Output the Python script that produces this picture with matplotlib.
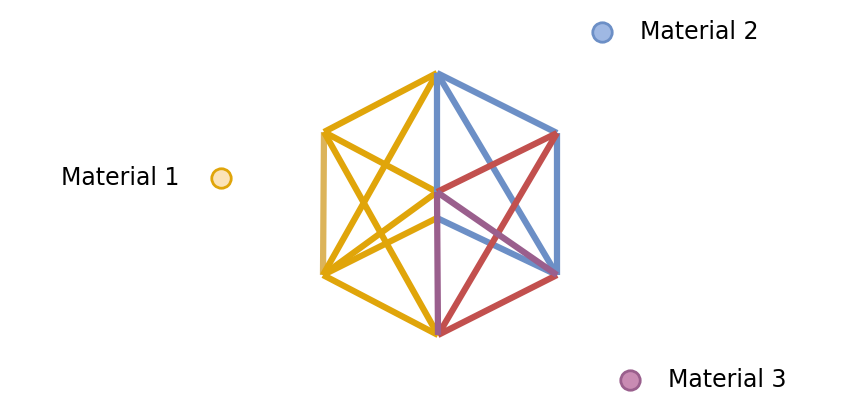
import matplotlib.pyplot as plt

# node positions (pixel-like coordinates, y downward)
nodes = {
    "T": (437, 73), "UL": (324, 132), "LL": (323, 275), "B": (438, 335),
    "UR": (557, 133), "LR": (557, 275), "C1": (437, 192), "C2": (437, 218),
}
yellow, blue, red, purple = "#e0a50a", "#6c8fc6", "#c2504e", "#9a5f8d"
edges = [
    ("T", "UL", yellow), ("UL", "LL", "#dcb45a"), ("LL", "B", yellow),
    ("UL", "B", yellow), ("T", "LL", yellow), ("UL", "C1", yellow),
    ("LL", "C1", yellow), ("LL", "C2", yellow),
    ("T", "UR", blue), ("UR", "LR", blue), ("T", "LR", blue),
    ("T", "C1", blue), ("C2", "LR", blue),
    ("UR", "C1", red), ("UR", "B", red), ("LR", "B", red),
    ("C1", "LR", purple), ("C1", "B", purple),
]
legend_labels = ["Material 1", "Material 2", "Material 3"]
legend_pos = [(221, 178), (602, 32), (630, 380)]
legend_fill = ["#fbe3b8", "#9fb8e3", "#c98bb3"]
legend_edge = [yellow, blue, purple]

fig = plt.figure(figsize=(8.5, 4.12), dpi=100)
ax = fig.add_axes([0, 0, 1, 1])
ax.set_xlim(0, 850)
ax.set_ylim(412, 0)
ax.axis("off")

for a, b, c in edges:
    (x1, y1), (x2, y2) = nodes[a], nodes[b]
    ax.plot([x1, x2], [y1, y2], color=c, lw=4.5, solid_capstyle="butt")

for (x, y), lab, fc, ec, side in zip(legend_pos, legend_labels, legend_fill, legend_edge,
                                     ["left", "right", "right"]):
    ax.plot(x, y, "o", ms=14, mfc=fc, mec=ec, mew=2)
    if side == "left":
        ax.text(x - 42, y, lab, ha="right", va="center", fontsize=17)
    else:
        ax.text(x + 38, y, lab, ha="left", va="center", fontsize=17)

fig.savefig("out.png")
